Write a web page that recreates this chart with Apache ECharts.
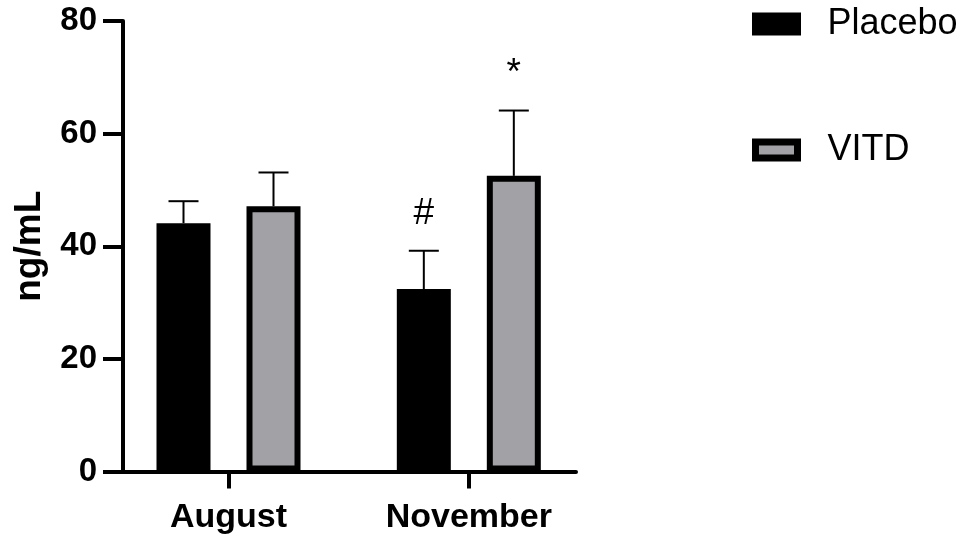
<!DOCTYPE html>
<html>
<head>
<meta charset="utf-8">
<script src="https://cdn.jsdelivr.net/npm/echarts@6/dist/echarts.min.js"></script>
<style>
  html, body { margin: 0; padding: 0; background: #fff; }
  #chart { width: 965px; height: 535px; }
</style>
</head>
<body>
<div id="chart"></div>
<script>
// Serum level per group and season (mean and upper error)
const categories = ['August', 'November'];
const seriesNames = ['Placebo', 'VITD'];
const placeboMean = [44.1, 32.4];
const placeboErr = [3.9, 6.8];
const vitdMean = [47.1, 52.5];
const vitdErr = [6.0, 11.6];
const placeboMarks = ['', '#'];
const vitdMarks = ['', '*'];
const yTicks = [0, 20, 40, 60, 80];

const FONT = '"Liberation Sans", Arial, Helvetica, sans-serif';
const BAR_W = 54;
const BAR_BORDER = 6;
const GAP_PX = 36;
const CAP_W = 30;
const GREY = '#a2a1a6';

const xPos = categories.map((c, i) => i);

function barData(means) {
  return means.map((v, i) => [xPos[i], v]);
}
function errData(means, errs, marks) {
  return means.map((v, i) => [xPos[i], v, v + errs[i], marks[i]]);
}

function errorSeries(name, means, errs, marks, side) {
  return {
    type: 'custom',
    name: name + ' error',
    z: 3,
    silent: true,
    data: errData(means, errs, marks),
    renderItem: function (params, api) {
      const xi = api.value(0);
      const base = api.coord([xi, api.value(1)]);
      const top = api.coord([xi, api.value(2)]);
      const x = base[0] + side * (BAR_W + GAP_PX) / 2;
      const mark = marks[params.dataIndex];
      const children = [
        { type: 'line', shape: { x1: x, y1: base[1], x2: x, y2: top[1] },
          style: { stroke: '#000', lineWidth: 2 } },
        { type: 'line', shape: { x1: x - CAP_W / 2, y1: top[1], x2: x + CAP_W / 2, y2: top[1] },
          style: { stroke: '#000', lineWidth: 2 } }
      ];
      if (mark) {
        children.push({
          type: 'text',
          x: x, y: top[1] - 18,
          style: { text: mark, fill: '#000', font: '37px ' + FONT,
                   textAlign: 'center', textVerticalAlign: 'bottom' }
        });
      }
      return { type: 'group', children: children };
    }
  };
}

const chart = echarts.init(document.getElementById('chart'), null, { renderer: 'canvas' });

chart.setOption({
  animation: false,
  backgroundColor: '#fff',
  grid: { left: 123, right: 389, top: 21, bottom: 63.5, containLabel: false },
  legend: {
    orient: 'vertical',
    left: 747,
    top: 1,
    padding: 5,
    icon: 'rect',
    itemWidth: 42,
    itemHeight: 16,
    itemGap: 90,
    selectedMode: false,
    itemStyle: { borderWidth: 7, borderColor: '#000' },
    textStyle: { fontFamily: FONT, fontSize: 36, color: '#000', padding: [0, 0, 0, 25] },
    data: seriesNames
  },
  xAxis: {
    type: 'value',
    min: -0.439,
    max: 1.446,
    splitLine: { show: false },
    axisLine: { show: true, onZero: true, lineStyle: { color: '#000', width: 4 } },
    axisTick: { show: true, customValues: xPos, length: 17, lineStyle: { color: '#000', width: 4 } },
    axisLabel: {
      show: true,
      customValues: xPos,
      formatter: v => categories[Math.round(v)] || '',
      margin: 29,
      fontFamily: FONT, fontSize: 34, fontWeight: 'bold', color: '#000'
    }
  },
  yAxis: {
    type: 'value',
    min: 0,
    max: 80,
    interval: 20,
    name: 'ng/mL',
    nameLocation: 'middle',
    nameGap: 75,
    nameTextStyle: { fontFamily: FONT, fontSize: 37, fontWeight: 'bold', color: '#000' },
    splitLine: { show: false },
    axisLine: { show: true, onZero: false, lineStyle: { color: '#000', width: 4 } },
    axisTick: { show: true, length: 20, lineStyle: { color: '#000', width: 4 } },
    axisLabel: {
      margin: 26,
      formatter: v => (yTicks.indexOf(v) >= 0 ? String(v) : ''),
      fontFamily: FONT, fontSize: 33, fontWeight: 'bold', color: '#000'
    }
  },
  series: [
    {
      type: 'bar',
      name: seriesNames[0],
      data: barData(placeboMean),
      barWidth: BAR_W,
      barGap: (GAP_PX / BAR_W * 100).toFixed(2) + '%',
      itemStyle: { color: '#000', borderColor: '#000', borderWidth: BAR_BORDER }
    },
    {
      type: 'bar',
      name: seriesNames[1],
      data: barData(vitdMean),
      barWidth: BAR_W,
      barGap: (GAP_PX / BAR_W * 100).toFixed(2) + '%',
      itemStyle: { color: GREY, borderColor: '#000', borderWidth: BAR_BORDER }
    },
    errorSeries(seriesNames[0], placeboMean, placeboErr, placeboMarks, -1),
    errorSeries(seriesNames[1], vitdMean, vitdErr, vitdMarks, 1)
  ]
});
</script>
</body>
</html>
